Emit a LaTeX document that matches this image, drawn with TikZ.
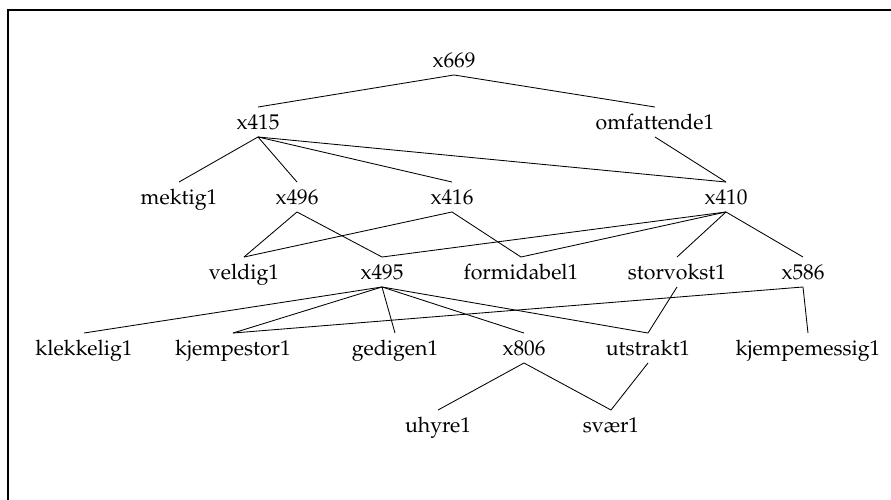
\documentclass[tikz,border=0pt]{standalone}
\usepackage[T1]{fontenc}
\usepackage{mathpazo}
\usepackage{tikz}

\begin{document}
\begin{tikzpicture}[x=0.0165cm, y=-0.0165cm,
    word/.style={inner sep=3.33pt, text height=7pt, text depth=0pt},
    link/.style={line width=0.4pt}]
    \useasboundingbox (0,0) rectangle (891,500);
    % frame
    \draw[line width=0.9pt] (891,10) -- (8,10) -- (8,500);
    % levels
    \node[word] (x669) at (454,60) {x669};
    \node[word] (x415) at (258,122) {x415};
    \node[word] (omfattende) at (655,122) {omfattende1};
    \node[word] (mektig) at (179,197) {mektig1};
    \node[word] (x496) at (297,197) {x496};
    \node[word] (x416) at (452,197) {x416};
    \node[word] (x410) at (726,197) {x410};
    \node[word] (veldig) at (244,272) {veldig1};
    \node[word] (x495) at (382,272) {x495};
    \node[word] (formidabel) at (521,272) {formidabel1};
    \node[word] (storvokst) at (677,272) {storvokst1};
    \node[word] (x586) at (803,272) {x586};
    \node[word] (klekkelig) at (84,348) {klekkelig1};
    \node[word] (kjempestor) at (233,348) {kjempestor1};
    \node[word] (gedigen) at (395,348) {gedigen1};
    \node[word] (x806) at (524,348) {x806};
    \node[word] (utstrakt) at (648,348) {utstrakt1};
    \node[word] (kjempemessig) at (808,348) {kjempemessig1};
    \node[word] (uhyre) at (438,425) {uhyre1};
    \node[word] (svaer) at (611,425) {sv\ae r1};
    % links
    \foreach \up/\down in {x669/x415, x669/omfattende,
        x415/mektig, x415/x496, x415/x416, x415/x410, omfattende/x410,
        x496/veldig, x496/x495, x416/veldig, x416/formidabel,
        x410/x495, x410/formidabel, x410/storvokst, x410/x586,
        x495/klekkelig, x495/kjempestor, x495/gedigen, x495/x806, x495/utstrakt,
        storvokst/utstrakt, x586/kjempestor, x586/kjempemessig,
        x806/uhyre, x806/svaer, utstrakt/svaer}
      \draw[link] (\up.south) -- (\down.north);
\end{tikzpicture}
\end{document}
